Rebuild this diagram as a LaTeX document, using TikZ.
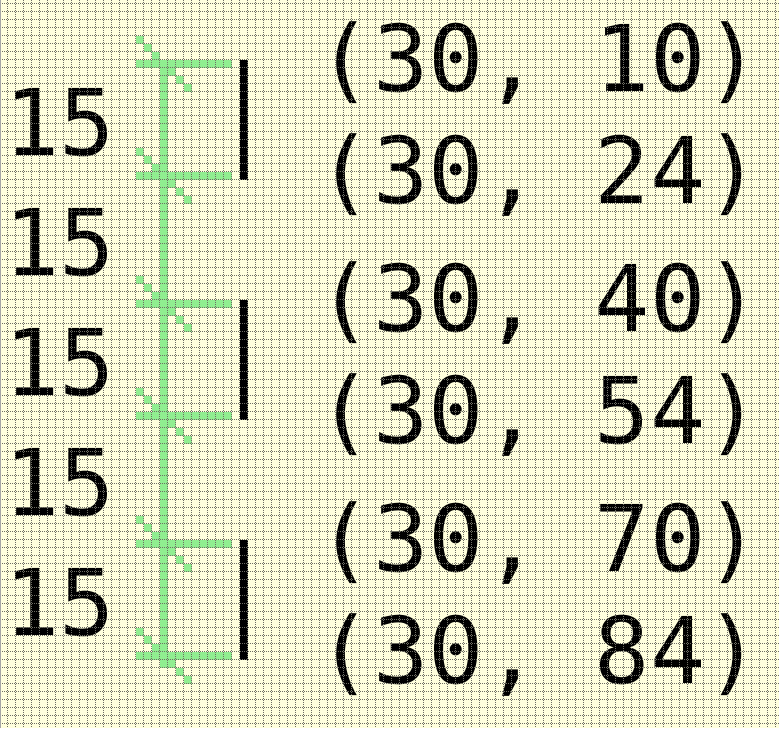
\documentclass[tikz,border=0pt]{standalone}
\usepackage{fontspec}
\newfontfamily\pixfont{DejaVu Sans Mono}
\definecolor{mybg}{RGB}{255, 255, 221}
\definecolor{mygrid}{RGB}{110, 110, 100}
\definecolor{mygreen}{RGB}{144, 238, 144}
\begin{document}
\begin{tikzpicture}[
    x = 4pt, y = 4pt,
    g0/.style = {line width = 0.5pt, mygrid, dash pattern = on 0.5pt off 0.5pt},
    lbl/.style = {anchor = base, inner sep = 0pt, font = \pixfont\fontsize{46pt}{50pt}\selectfont}
]
\useasboundingbox (0.0625,-0.5625) rectangle (97.4375,-91.5625);
\fill[mybg] (0.0625,-0.5625) rectangle (97.4375,-91.5625);

% green ticks with the cross marks
\fill[mygreen] (20,-8) rectangle (21,-84);
\foreach \r in {8,22,38,52,68,82} {
  \fill[mygreen] (17,-\r) rectangle (29,{-\r-1});
  \foreach \k in {-3,...,3}
    \fill[mygreen] ({20+\k},{-\r-(\k)}) rectangle ({21+\k},{-\r-(\k)-1});
}

% black bars
\fill (30,-8) rectangle (31,-23);
\fill (30,-38) rectangle (31,-53);
\fill (30,-68) rectangle (31,-83);

% labels
\foreach \r/\v [count=\n] in {8/10, 22/24, 38/40, 52/54, 68/70, 82/84}
  \node[lbl] (pt\n) at (67.5,{-\r-4}) {(30, \v)};
\foreach \b [count=\n] in {20, 35, 50, 65, 80}
  \node[lbl] (gap\n) at (7.5,-\b) {15};

% grid on top
\foreach \i in {1,...,97} \draw[g0] (\i,-0.5625) -- (\i,-91.5625);
\foreach \j in {1,...,91} \draw[g0] (0.0625,-\j) -- (97.4375,-\j);
\draw[line width = 0.5pt, gray!70] (0.125,-0.5625) -- (0.125,-91.5625);

\end{tikzpicture}
\end{document}
